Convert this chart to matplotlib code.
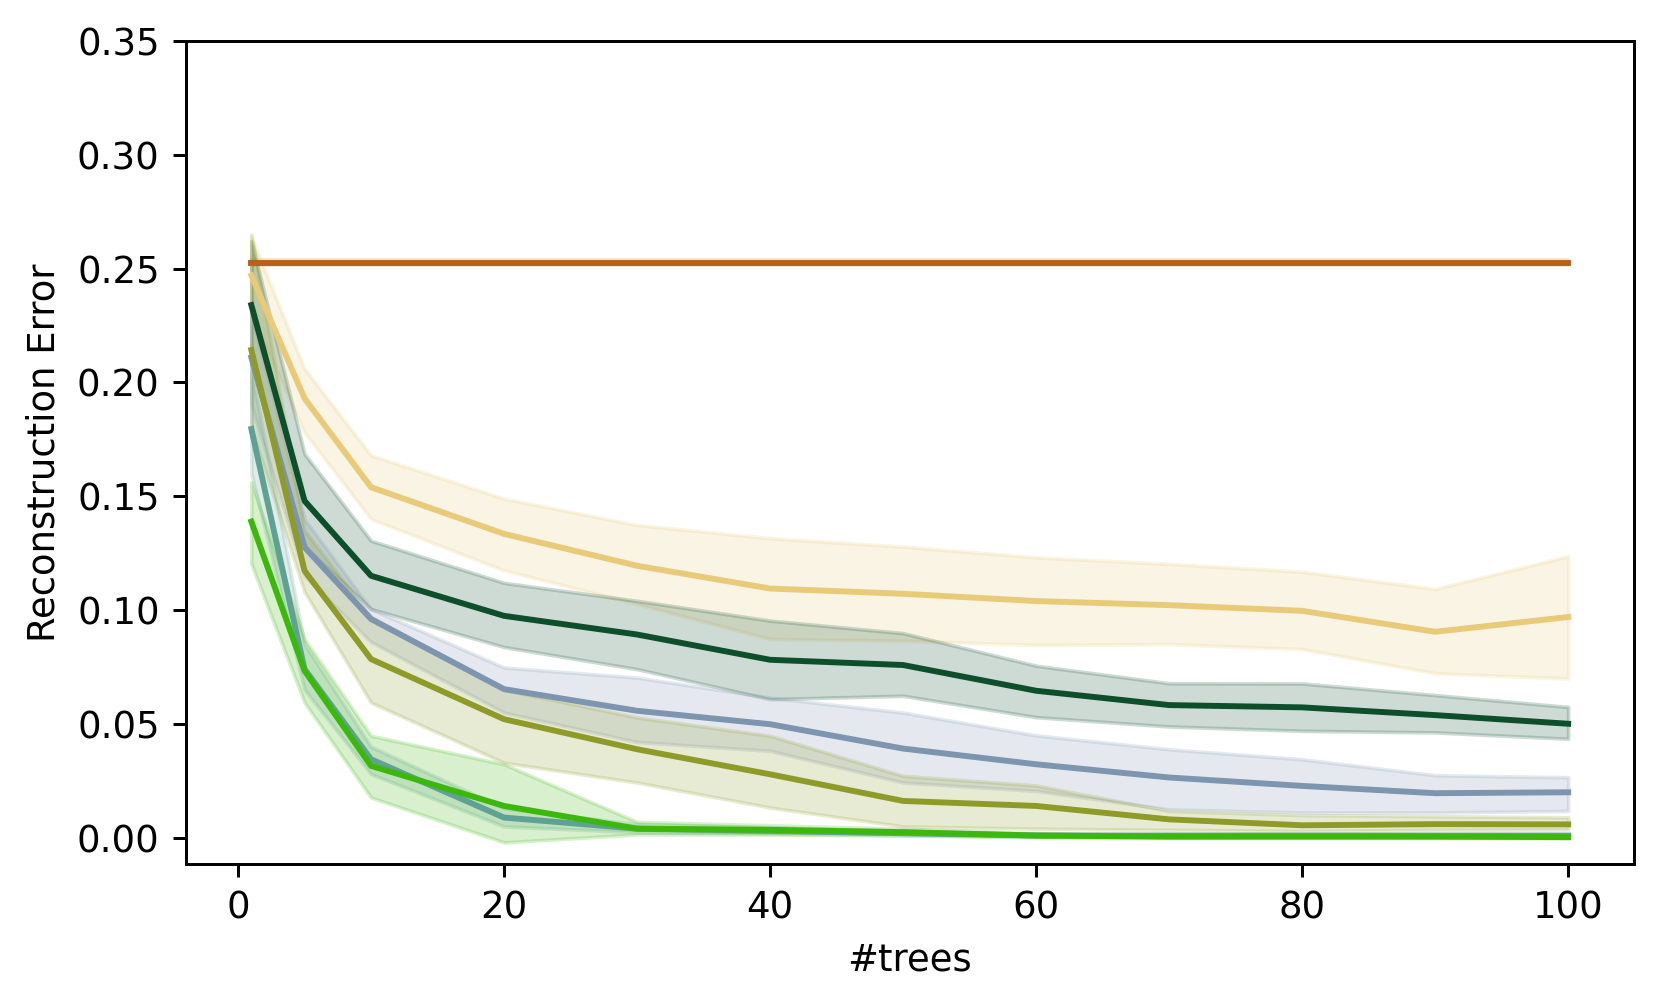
import matplotlib
matplotlib.use("Agg")
import matplotlib.pyplot as plt
import numpy as np

trees = [1, 5, 10, 20, 30, 40, 50, 60, 70, 80, 90, 100]

orange_mean = [0.2527] * 12
orange_lo = [0.2518] * 12
orange_hi = [0.2536] * 12

gold_mean = [0.247, 0.193, 0.154, 0.1335, 0.1195, 0.1095, 0.1072, 0.1040, 0.1022, 0.0997, 0.0905, 0.0970]
gold_hi = [0.264, 0.206, 0.168, 0.149, 0.1374, 0.1316, 0.1279, 0.1232, 0.1203, 0.1169, 0.1093, 0.1237]
gold_lo = [0.230, 0.178, 0.140, 0.1175, 0.1027, 0.0873, 0.0866, 0.0847, 0.0851, 0.0829, 0.0723, 0.0700]

dgreen_mean = [0.234, 0.148, 0.1151, 0.0975, 0.0893, 0.0782, 0.0759, 0.0646, 0.0583, 0.0573, 0.0539, 0.0501]
dgreen_hi = [0.262, 0.1686, 0.1305, 0.112, 0.1041, 0.0954, 0.0899, 0.0756, 0.0679, 0.0678, 0.0627, 0.0575]
dgreen_lo = [0.208, 0.128, 0.1005, 0.0838, 0.0741, 0.0609, 0.0624, 0.0530, 0.0489, 0.0470, 0.0463, 0.0435]

blue_mean = [0.211, 0.1276, 0.0961, 0.0653, 0.0558, 0.0499, 0.0392, 0.0323, 0.0265, 0.0228, 0.0196, 0.0200]
blue_hi = [0.230, 0.140, 0.1005, 0.0748, 0.0704, 0.0616, 0.0550, 0.0450, 0.0389, 0.0345, 0.0275, 0.0266]
blue_lo = [0.190, 0.115, 0.0860, 0.0550, 0.0421, 0.0382, 0.0243, 0.0206, 0.0125, 0.0111, 0.0111, 0.0118]

olive_mean = [0.2143, 0.1173, 0.0785, 0.0521, 0.0389, 0.0279, 0.0162, 0.0140, 0.0081, 0.0055, 0.0060, 0.0059]
olive_hi = [0.265, 0.135, 0.097, 0.0650, 0.0529, 0.0448, 0.0272, 0.0230, 0.0118, 0.0100, 0.0095, 0.0090]
olive_lo = [0.180, 0.108, 0.0594, 0.0330, 0.0243, 0.0133, 0.0050, 0.0040, 0.0035, 0.0030, 0.0035, 0.0037]

teal_mean = [0.1796, 0.0741, 0.0345, 0.0089, 0.0040, 0.0030, 0.0020, 0.0010, 0.0010, 0.0010, 0.0010, 0.0010]
teal_hi = [0.205, 0.085, 0.040, 0.013, 0.0060, 0.0045, 0.0030, 0.0018, 0.0016, 0.0016, 0.0015, 0.0015]
teal_lo = [0.160, 0.065, 0.028, 0.005, 0.0025, 0.0018, 0.0012, 0.0005, 0.0005, 0.0005, 0.0005, 0.0005]

green_mean = [0.1389, 0.0734, 0.0316, 0.0140, 0.0040, 0.0035, 0.0025, 0.0010, 0.0005, 0.0005, 0.0005, 0.0003]
green_hi = [0.1562, 0.0873, 0.0448, 0.0323, 0.0070, 0.0055, 0.0040, 0.0020, 0.0012, 0.0012, 0.0010, 0.0008]
green_lo = [0.1203, 0.0594, 0.0177, -0.0020, 0.0015, 0.0015, 0.0010, 0.0002, 0.0000, 0.0000, 0.0000, -0.0002]

series = [
    (orange_mean, orange_lo, orange_hi, "#b5621a"),
    (gold_mean, gold_lo, gold_hi, "#e8ca78"),
    (dgreen_mean, dgreen_lo, dgreen_hi, "#0d4f2b"),
    (blue_mean, blue_lo, blue_hi, "#7d95af"),
    (olive_mean, olive_lo, olive_hi, "#8f9b28"),
    (teal_mean, teal_lo, teal_hi, "#5fa293"),
    (green_mean, green_lo, green_hi, "#3cb80c"),
]

DPI = 266
fig = plt.figure(figsize=(1660 / DPI, 1002 / DPI), dpi=DPI)
ax = fig.add_axes([185.5 / 1660, 1 - 864 / 1002, (1634 - 185.5) / 1660, (864 - 41) / 1002])

for mean, lo, hi, c in series:
    ax.fill_between(trees, lo, hi, color=c, alpha=0.2)
    ax.plot(trees, mean, color=c, lw=1.6)

ax.set_xlim(-3.95, 104.95)
ax.set_ylim(-0.0115, 0.35)
yt = np.arange(0, 0.351, 0.05)
ax.set_yticks(yt)
ax.set_yticklabels([f"{v:.2f}" for v in yt])
ax.set_xticks([0, 20, 40, 60, 80, 100])
ax.set_xlabel("#trees")
ax.set_ylabel("Reconstruction Error")

fig.savefig("out.png", dpi=DPI)
